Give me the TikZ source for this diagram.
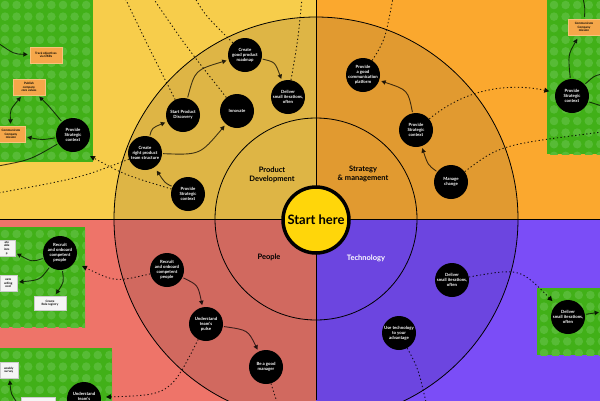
\documentclass[tikz,border=0pt]{standalone}
\usepackage{fontspec}
\setmainfont{Lato}
\usetikzlibrary{arrows.meta}

\definecolor{tlbg}{HTML}{F7CD4B}
\definecolor{tldisk}{HTML}{DEB545}
\definecolor{trbg}{HTML}{FBA82E}
\definecolor{trdisk}{HTML}{E19A30}
\definecolor{blbg}{HTML}{EE7469}
\definecolor{bldisk}{HTML}{D1695F}
\definecolor{brbg}{HTML}{7B4DF7}
\definecolor{brdisk}{HTML}{6C45E0}
\definecolor{lego}{HTML}{41B018}
\definecolor{legodot}{HTML}{57BB36}
\definecolor{notefill}{HTML}{F5A74A}
\definecolor{noteline}{HTML}{F9C27A}
\definecolor{startfill}{HTML}{FFD60A}

\newcommand{\legobox}[4]{%
  \begin{scope}
    \clip (#1,#2) rectangle (#3,#4);
    \fill[lego] (#1,#2) rectangle (#3,#4);
    \foreach \lx in {0,...,10}
      \foreach \ly in {0,...,14}
        \fill[legodot] (#1+7+11.6*\lx,#2+7+11.6*\ly) circle (4.3);
  \end{scope}}

\begin{document}
\begin{tikzpicture}[x=1pt, y=-1pt,
    task/.style={circle, fill=black, text=white, minimum size=34pt, inner sep=-4pt, align=center, font=\bfseries\fontsize{4.3}{4.9}\selectfont},
    note/.style={rectangle, fill=notefill, draw=noteline, line width=0.4pt, minimum width=32pt, minimum height=16pt, inner sep=0.5pt, align=center, font=\bfseries\fontsize{3}{3.6}\selectfont},
    wnote/.style={note, fill=gray!8, draw=gray!40},
    quad/.style={align=center, font=\bfseries\fontsize{7.5}{8.5}\selectfont},
    start/.style={circle, fill=startfill, draw=black, line width=3.5pt, minimum size=66pt, inner sep=0pt, font=\bfseries\fontsize{13}{13}\selectfont},
    flow/.style={draw=black, opacity=0.72, line width=0.9pt, -{Triangle[length=4.5pt,width=4.5pt]}, shorten >=2pt, shorten <=1pt},
    link/.style={draw=black, opacity=0.85, line width=0.9pt, dash pattern=on 1.3pt off 2.4pt},
    tip/.style={-{Triangle[length=5pt,width=5pt]}},
    ring/.style={draw=black, line width=0.8pt}]

  \useasboundingbox (0,0) rectangle (600,400);
  \clip (0,0) rectangle (600,400);

  \foreach \qx/\qy/\qbg/\qdisk in {0/0/tlbg/tldisk, 316/0/trbg/trdisk, 0/219/blbg/bldisk, 316/219/brbg/brdisk} {
    \fill[\qbg] (\qx,\qy) rectangle ++(316,219);
    \begin{scope}
      \clip (\qx,\qy) rectangle ++(316,219);
      \fill[\qdisk] (316,219) circle (202);
    \end{scope}
  }
  \draw[ring] (316,219) circle (202);
  \draw[ring] (316,219) circle (101);
  \draw[ring, line width=0.7pt] (316,0) -- (316,400);
  \draw[ring, line width=0.7pt] (0,219) -- (600,219);

  \legobox{-2}{-2}{93}{162}
  \legobox{547}{-2}{602}{154}
  \legobox{-2}{227}{85}{327}
  \legobox{-2}{348}{112}{402}
  \legobox{537}{288}{602}{355}

  \node[start] (start) at (316,220) {Start here};
  \node[quad] (pd-label) at (272,175) {Product\\Development};
  \node[quad] (sm-label) at (363,174) {Strategy\\\&~management};
  \node[quad] (pe-label) at (269,257) {People};
  \node[quad, text=white] (te-label) at (366,258) {Technology};

  \node[task] (pd-roadmap) at (245,55) {Create\\good product\\roadmap};
  \node[task] (pd-deliver) at (288,97) {Deliver\\small iterations,\\often};
  \node[task] (pd-discovery) at (183,115) {Start Product\\Discovery};
  \node[task] (pd-innovate) at (237,111) {Innovate};
  \node[task] (pd-team) at (145,153) {Create\\right product\\team structure};
  \node[task] (pd-context) at (188,194) {Provide\\Strategic\\context};

  \node[task] (sm-platform) at (363,75) {Provide\\a good\\communication\\platform};
  \node[task] (sm-context) at (416,130) {Provide\\Strategic\\context};
  \node[task] (sm-change) at (451,182) {Manage\\change};

  \node[task] (pe-recruit) at (167,270) {Recruit\\and onboard\\competent\\people};
  \node[task] (pe-pulse) at (206,324) {Understand\\team's\\pulse};
  \node[task] (pe-manager) at (266,367) {Be a good\\manager};

  \node[task] (te-deliver) at (452,280) {Deliver\\small iterations,\\often};
  \node[task] (te-use) at (399,333) {Use technology\\to your\\advantage};

  \node[task] (g1-context) at (73,135) {Provide\\Strategic\\context};
  \node[note] (g1-okr) at (46,55) {Track objectives\\via OKRs};
  \node[note] (g1-values) at (29,87) {Publish\\company\\core values};
  \node[note, minimum width=28pt] (g1-mission) at (11,134) {Communicate\\Company\\mission};

  \node[task] (g2-context) at (572,96) {Provide\\Strategic\\context};
  \node[note] (g2-mission) at (584,27) {Communicate\\Company\\mission};

  \node[task] (g3-recruit) at (60,253) {Recruit\\and onboard\\competent\\people};
  \node[wnote, anchor=east, minimum width=16pt] (g3-loop) at (15,248) {ate\\able\\ions\\p};
  \node[wnote, anchor=east, minimum width=17pt] (g3-protocol) at (17,283) {eate\\arding\\ocol};
  \node[wnote, minimum height=14pt] (g3-registry) at (50,303) {Create\\Role registry};

  \node[task] (g4-pulse) at (84,399) {Understand\\team's\\pulse};
  \node[wnote, anchor=east, minimum width=18pt] (g4-survey) at (18,370) {weekly\\survey};
  \node[wnote, minimum width=34pt] (g4-next) at (38,405) {};

  \node[task] (g5-deliver) at (568,317) {Deliver\\small iterations,\\often};

  \coordinate (pd-out1) at (125,-2);
  \coordinate (pd-out2) at (153,-2);
  \coordinate (pd-out3) at (195,-2);
  \coordinate (pd-out4) at (302,-2);
  \coordinate (pd-out5) at (-2,193);
  \coordinate (g1-in) at (90,156);
  \coordinate (sm-out1) at (393,-2);
  \coordinate (sm-out2) at (602,132);
  \coordinate (pe-out1) at (277,402);
  \coordinate (g3-in) at (82,266);
  \coordinate (g4-in) at (106,397);
  \coordinate (te-out1) at (426,402);
  \coordinate (g1-edge1) at (-2,43);
  \coordinate (g1-edge2) at (-2,166);
  \coordinate (g2-top) at (583,-2);
  \coordinate (g2-edge1) at (602,74);
  \coordinate (g2-edge2) at (602,106);
  \coordinate (g4-from) at (18,404);
  \coordinate (g5-out) at (601,312);

  \draw[link] (pd-discovery) .. controls (150,50) .. (pd-out1);
  \draw[link] (pd-innovate) .. controls (185,45) .. (pd-out2);
  \draw[link] (pd-roadmap) .. controls (205,15) .. (pd-out3);
  \draw[link] (pd-deliver) .. controls (298,40) .. (pd-out4);
  \draw[link, tip] (pd-context) .. controls (125,175) .. (g1-in);
  \draw[link] (pd-team) .. controls (80,178) .. (pd-out5);
  \draw[link] (sm-platform) .. controls (385,40) .. (sm-out1);
  \draw[link, tip, shorten >=6pt] (sm-context) .. controls (470,85) and (515,84) .. (g2-context);
  \draw[link] (sm-change) .. controls (500,145) .. (sm-out2);
  \draw[link, tip] (pe-recruit) .. controls (115,282) .. (g3-in);
  \draw[link, tip] (pe-pulse) .. controls (170,395) .. (g4-in);
  \draw[link] (pe-manager) .. controls (273,390) .. (pe-out1);
  \draw[link, tip, shorten >=5pt] (te-deliver) .. controls (520,268) .. (g5-deliver);
  \draw[link] (te-use) .. controls (418,368) .. (te-out1);

  \draw[flow] (pd-team) .. controls (152,128) .. (pd-discovery);
  \draw[flow] (pd-team) .. controls (200,155) .. (pd-innovate);
  \draw[flow] (pd-discovery) .. controls (195,70) .. (pd-roadmap);
  \draw[flow] (pd-roadmap) .. controls (275,62) .. (pd-deliver);
  \draw[flow, shorten >=4pt] (pd-context) .. controls (165,183) .. (pd-team);
  \draw[flow] (sm-change) .. controls (428,165) .. (sm-context);
  \draw[flow] (sm-context) .. controls (408,90) .. (sm-platform);
  \draw[flow] (pe-recruit) .. controls (198,285) .. (pe-pulse);
  \draw[flow] (pe-pulse) .. controls (248,330) .. (pe-manager);

  \draw[flow] (g1-edge1) .. controls (14,54) .. (g1-okr);
  \draw[flow] (g1-context) .. controls (48,105) .. (g1-values);
  \draw[flow, {Triangle[length=4.5pt,width=4.5pt]}-{Triangle[length=4.5pt,width=4.5pt]}, shorten <=2pt] (g1-values) .. controls (10,110) .. (g1-mission);
  \draw[flow] (g1-context) .. controls (42,140) .. (g1-mission);
  \draw[flow, -] (g1-context) .. controls (30,160) .. (g1-edge2);
  \draw[flow, -] (g2-top) .. controls (585,8) .. (g2-mission);
  \draw[flow, shorten >=4pt] (g2-context) .. controls (568,55) .. (g2-mission);
  \draw[flow, -] (g2-context) .. controls (594,76) .. (g2-edge1);
  \draw[flow, -] (g2-context) .. controls (595,104) .. (g2-edge2);
  \draw[flow] (g3-recruit) .. controls (32,262) .. (g3-loop);
  \draw[flow] (g3-recruit) .. controls (40,280) .. (g3-protocol);
  \draw[flow] (g3-recruit) .. controls (64,282) .. (g3-registry);
  \draw[flow] (g4-from) .. controls (11,394) .. (g4-survey);
  \draw[flow] (g5-deliver) -- (g5-out);
\end{tikzpicture}
\end{document}
